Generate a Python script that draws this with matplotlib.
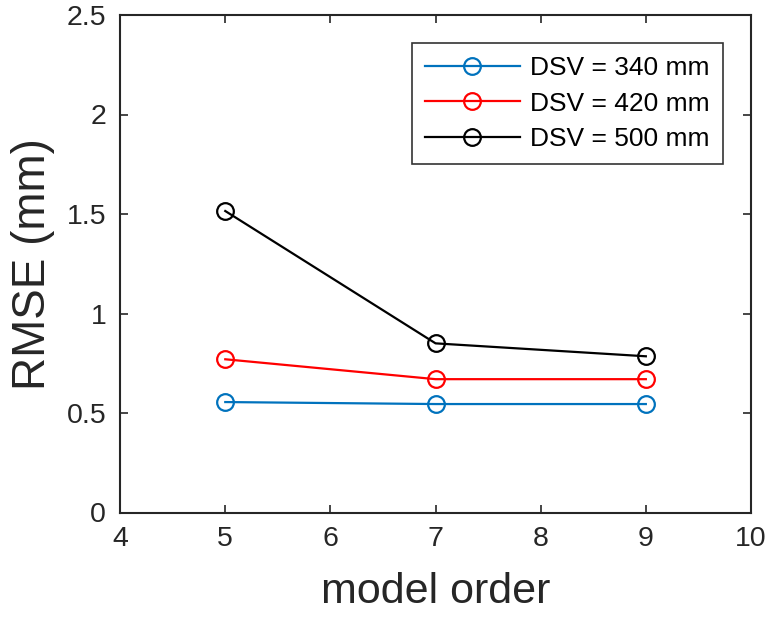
import matplotlib
matplotlib.use("Agg")
import matplotlib.pyplot as plt

plt.rcParams["font.family"] = ["Liberation Sans", "DejaVu Sans"]

# 데이터
model_order = [5, 7, 9]
rmse_340 = [0.555, 0.545, 0.545]
rmse_420 = [0.77, 0.67, 0.67]
rmse_500 = [1.515, 0.85, 0.785]

series = [
    ("DSV = 340 mm", rmse_340, "#0072BD"),
    ("DSV = 420 mm", rmse_420, "#FF0000"),
    ("DSV = 500 mm", rmse_500, "#000000"),
]

fig = plt.figure(figsize=(7.75, 6.25), dpi=100)
ax = fig.add_axes([0.155, 0.18, 0.814, 0.796])

for label, vals, color in series:
    ax.plot(model_order, vals, color=color, linewidth=1.6, marker="o",
            markersize=12, markerfacecolor="none", markeredgewidth=1.6,
            label=label)

ax.set_xlim(4, 10)
ax.set_ylim(0, 2.5)
ax.set_xticks([4, 5, 6, 7, 8, 9, 10])
ax.set_yticks([0, 0.5, 1, 1.5, 2, 2.5])
ax.set_yticklabels(["0", "0.5", "1", "1.5", "2", "2.5"])

ax.tick_params(direction="in", top=True, right=True, length=6, width=1.2,
               labelsize=20.5, colors="#262626", pad=10)
for s in ax.spines.values():
    s.set_linewidth(1.5)
    s.set_color("#262626")

ax.set_xlabel("model order", fontsize=31, color="#262626", labelpad=14)
ax.set_ylabel("RMSE (mm)", fontsize=33, color="#262626", labelpad=8)

leg = ax.legend(loc="upper right", fontsize=19, handlelength=3.6,
                frameon=True, fancybox=False, edgecolor="black",
                borderaxespad=1.05, labelspacing=0.44, handletextpad=0.4,
                borderpad=0.5)
leg.get_frame().set_linewidth(1.2)

fig.savefig("out.png", dpi=100)
